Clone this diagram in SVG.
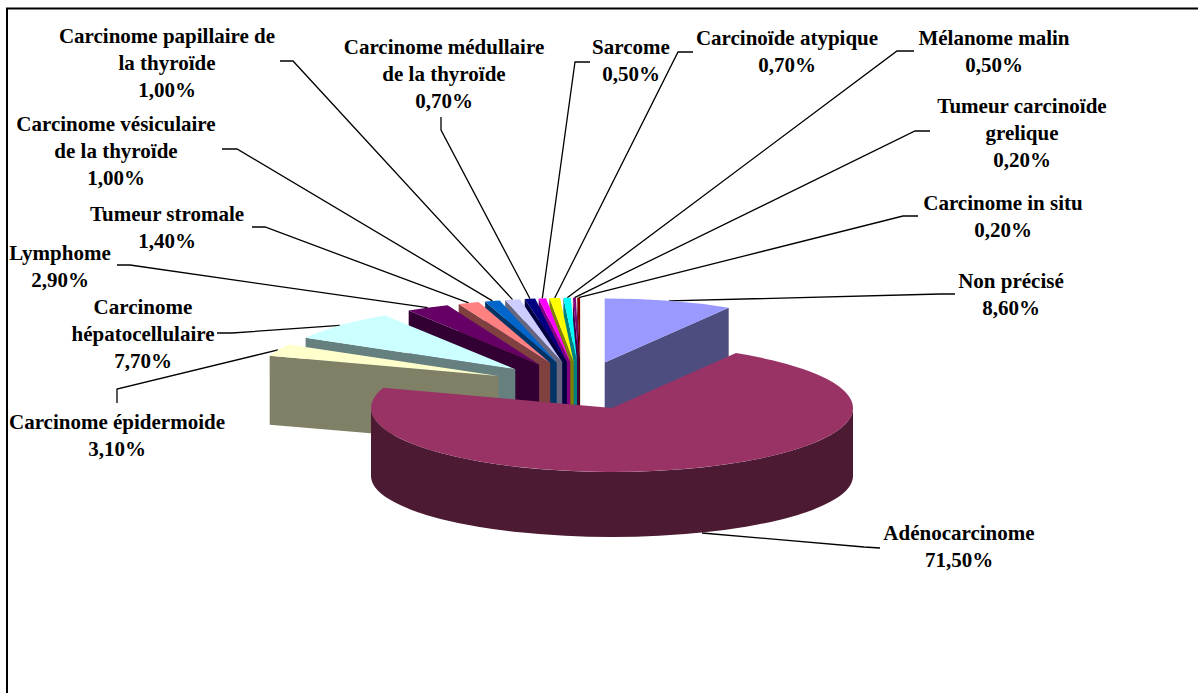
<svg xmlns="http://www.w3.org/2000/svg" width="1198" height="693" viewBox="0 0 1198 693">
<style>
.lbl{font-family:"Liberation Serif","Times New Roman",serif;font-weight:bold;font-size:21px;fill:#000;text-anchor:middle}
.lead{fill:none;stroke:#000;stroke-width:1.3}
</style>
<rect width="1198" height="693" fill="#fff"/>
<path d="M7,693 V8.5 H1198" fill="none" stroke="#000" stroke-width="2"/>
<g id="connectors">
<polyline class="lead" points="280,61 293,61 512.6,299.6"/>
<polyline class="lead" points="222,149 237,149 492.4,300.9"/>
<polyline class="lead" points="441,117 441,130 530,298.8"/>
<polyline class="lead" points="590,62 575,62 542.3,298.3"/>
<polyline class="lead" points="693,52 678,52 554.7,298"/>
<polyline class="lead" points="914,51 897,51 567.2,297.8"/>
<polyline class="lead" points="930,131 915,131 574.5,297.7"/>
<polyline class="lead" points="918,216 903,216 578.6,297.7"/>
<polyline class="lead" points="955,294 940,294 669,300.9"/>
<polyline class="lead" points="880,548 864,547 702,533"/>
<polyline class="lead" points="252,227 265,227 468.6,302.9"/>
<polyline class="lead" points="117,265 130,265 427.7,307.7"/>
<polyline class="lead" points="217,333 232,333 340,325.3"/>
<polyline class="lead" points="117,403 117,389 278.1,349.9"/>
</g>
<g id="non-precise">
<path d="M604.7,362.6 L728.7,307.7 L728.7,378.3 L604.7,430.6 Z" fill="#4D4D80"/>
<path d="M604.7,362.6 L604.7,298.6 A241,64 0 0 1 728.7,307.7 Z" fill="#9999FF"/>
<text class="lbl" x="1011" y="288">Non précisé</text>
<text class="lbl" x="1011" y="315">8,60%</text>
</g>
<g id="carcinome-in-situ">
<path d="M580.1,361.7 L577.1,297.7 L577.1,368.7 L580.1,429.7 Z" fill="#400000"/>
<path d="M580.1,361.7 L577.1,297.7 A241,64 0 0 1 580.1,297.7 Z" fill="#800000"/>
<text class="lbl" x="1003" y="210">Carcinome in situ</text>
<text class="lbl" x="1003" y="237">0,20%</text>
</g>
<g id="tumeur-carcinoide-grelique">
<path d="M579,361.7 L572.9,297.7 L572.9,368.7 L579,429.7 Z" fill="#400040"/>
<path d="M579,361.7 L572.9,297.7 A241,64 0 0 1 576,297.7 Z" fill="#800080"/>
<text class="lbl" x="1022" y="113">Tumeur carcinoïde</text>
<text class="lbl" x="1022" y="140">grelique</text>
<text class="lbl" x="1022" y="167">0,20%</text>
</g>
<g id="melanome-malin">
<path d="M577,361.7 L563.4,297.8 L563.4,368.8 L577,429.7 Z" fill="#008080"/>
<path d="M577,361.7 L563.4,297.8 A241,64 0 0 1 570.9,297.7 Z" fill="#00FFFF"/>
<text class="lbl" x="994" y="45">Mélanome malin</text>
<text class="lbl" x="994" y="72">0,50%</text>
</g>
<g id="carcinoide-atypique">
<path d="M573.6,361.8 L549.4,298.1 L549.4,369.1 L573.6,429.8 Z" fill="#808000"/>
<path d="M573.6,361.8 L549.4,298.1 A241,64 0 0 1 560,297.9 Z" fill="#FFFF00"/>
<text class="lbl" x="787" y="45">Carcinoïde atypique</text>
<text class="lbl" x="787" y="72">0,70%</text>
</g>
<g id="sarcome">
<path d="M570.3,361.9 L538.6,298.5 L538.6,369.4 L570.3,429.9 Z" fill="#800080"/>
<path d="M570.3,361.9 L538.6,298.5 A241,64 0 0 1 546.1,298.2 Z" fill="#FF00FF"/>
<text class="lbl" x="631" y="54">Sarcome</text>
<text class="lbl" x="631" y="81">0,50%</text>
</g>
<g id="carcinome-medullaire">
<path d="M566.9,362 L524.7,299 L524.7,369.9 L566.9,430 Z" fill="#000040"/>
<path d="M566.9,362 L524.7,299 A241,64 0 0 1 535.2,298.6 Z" fill="#000080"/>
<text class="lbl" x="444" y="54">Carcinome médullaire</text>
<text class="lbl" x="444" y="81">de la thyroïde</text>
<text class="lbl" x="444" y="108">0,70%</text>
</g>
<g id="carcinome-papillaire">
<path d="M562.2,362.2 L505.2,300 L505.2,370.9 L562.2,430.2 Z" fill="#666680"/>
<path d="M562.2,362.2 L505.2,300 A241,64 0 0 1 520,299.2 Z" fill="#CCCCFF"/>
<text class="lbl" x="167" y="43">Carcinome papillaire de</text>
<text class="lbl" x="167" y="70">la thyroïde</text>
<text class="lbl" x="167" y="97">1,00%</text>
</g>
<g id="carcinome-vesiculaire">
<path d="M556.7,362.6 L485.1,301.5 L485.1,372.4 L556.7,430.6 Z" fill="#003366"/>
<path d="M556.7,362.6 L485.1,301.5 A241,64 0 0 1 499.7,300.4 Z" fill="#0066CC"/>
<text class="lbl" x="116" y="131">Carcinome vésiculaire</text>
<text class="lbl" x="116" y="158">de la thyroïde</text>
<text class="lbl" x="116" y="185">1,00%</text>
</g>
<g id="tumeur-stromale">
<path d="M550.2,363.1 L458.7,303.9 L458.7,374.7 L550.2,431.1 Z" fill="#804040"/>
<path d="M550.2,363.1 L458.7,303.9 A241,64 0 0 1 478.6,302 Z" fill="#FF8080"/>
<text class="lbl" x="167" y="221">Tumeur stromale</text>
<text class="lbl" x="167" y="248">1,40%</text>
</g>
<g id="lymphome">
<path d="M539.1,364.4 L408.7,310.6 L408.7,381.1 L539.1,432.4 Z" fill="#330033"/>
<path d="M539.1,364.4 L408.7,310.6 A241,64 0 0 1 447.6,305.2 Z" fill="#660066"/>
<text class="lbl" x="60" y="260">Lymphome</text>
<text class="lbl" x="60" y="287">2,90%</text>
</g>
<g id="carcinome-hepatocellulaire">
<path d="M515.3,369.2 L305.6,337.7 L305.6,407.1 L515.3,437.2 Z" fill="#668080"/>
<path d="M515.3,369.2 L305.6,337.7 A241,64 0 0 1 384.9,315.4 Z" fill="#CCFFFF"/>
<text class="lbl" x="143" y="314">Carcinome</text>
<text class="lbl" x="143" y="341">hépatocellulaire</text>
<text class="lbl" x="143" y="368">7,70%</text>
</g>
<g id="carcinome-epidermoide">
<path d="M498.4,375.9 L269.7,355.7 L269.7,424.7 L498.4,443.9 Z" fill="#808066"/>
<path d="M498.4,375.9 L269.7,355.7 A241,64 0 0 1 288.7,344.4 Z" fill="#FFFFCC"/>
<text class="lbl" x="117" y="429">Carcinome épidermoide</text>
<text class="lbl" x="117" y="456">3,10%</text>
</g>
<g id="adenocarcinome">
<path d="M853,408 A241,64 0 0 1 371,408 L371,476 A241,61 0 0 0 853,476 Z" fill="#4C1A33"/>
<path d="M612,408 L736,353.1 A241,64 0 1 1 383.3,387.8 Z" fill="#993366"/>
<text class="lbl" x="959" y="540">Adénocarcinome</text>
<text class="lbl" x="959" y="567">71,50%</text>
</g>
</svg>
